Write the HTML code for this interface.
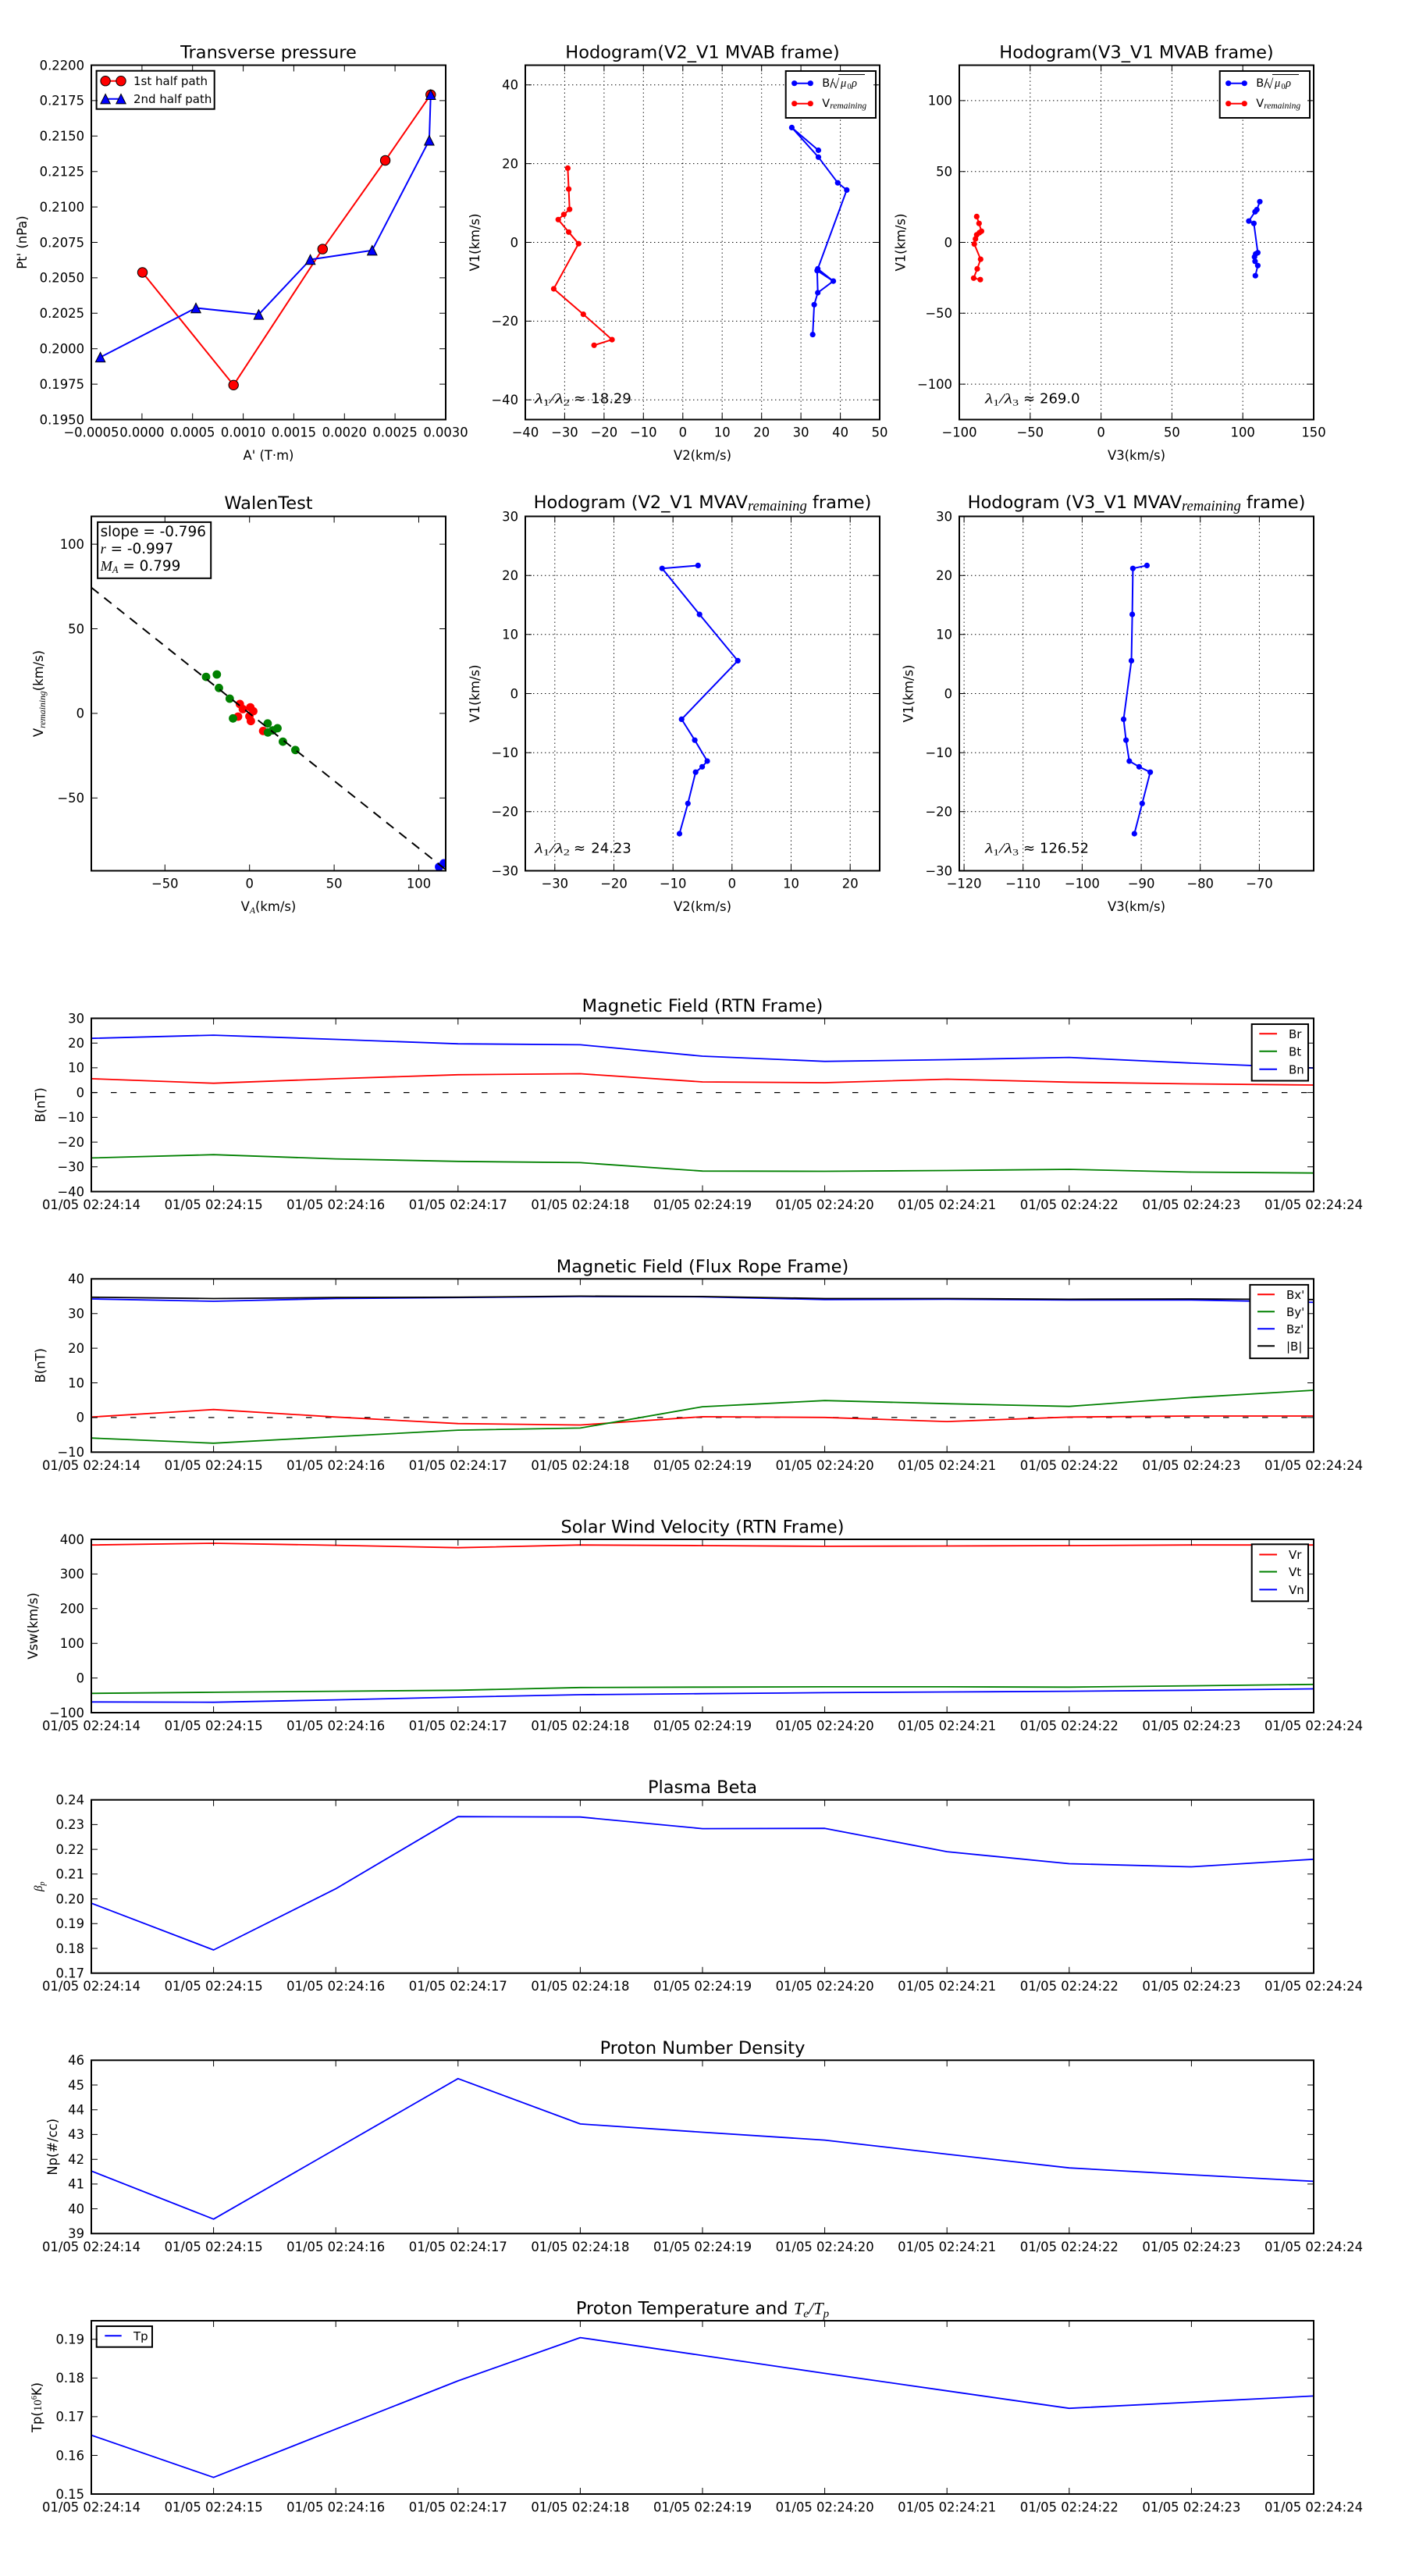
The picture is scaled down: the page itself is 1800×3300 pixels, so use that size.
<!DOCTYPE html>
<html><head><meta charset="utf-8"><style>
html,body{margin:0;padding:0;background:#fff}
svg{display:block;font-family:"DejaVu Sans","Liberation Sans",sans-serif;font-size:16.4px}
text{fill:#000}
.c{text-anchor:middle}
.e{text-anchor:end}
.ttl{font-size:22.5px;text-anchor:middle}
.m{font-family:"Liberation Serif","DejaVu Serif",serif;font-style:italic}
.sp{fill:none;stroke:#000;stroke-width:2}
.tk{fill:none;stroke:#000;stroke-width:1}
.gd{fill:none;stroke:#000;stroke-width:1;stroke-dasharray:1.4 3.6}
.ln{fill:none;stroke-width:2;stroke-linejoin:round}
.tl{fill:none;stroke-width:1.8;stroke-linejoin:round}
.lg{fill:#fff;stroke:#000;stroke-width:2}
.zl{fill:none;stroke:#000;stroke-width:1.3;stroke-dasharray:7.5 17.5}
.lt{font-size:15px}
</style></head><body>
<svg width="1800" height="3300" viewBox="0 0 1800 3300" xmlns="http://www.w3.org/2000/svg">
<rect x="0" y="0" width="1800" height="3300" fill="#fff"/>
<defs><clipPath id="c4"><rect x="117" y="661.5" width="454" height="454"/></clipPath></defs>

<!-- ============ P1 Transverse pressure ============ -->
<text class="ttl" x="344" y="74.5">Transverse pressure</text>
<polyline class="ln" stroke="#ff0000" points="182.5,349 299.2,493.3 413.3,319.1 493.6,205.5 551.8,121.3"/>
<g fill="#ff0000" stroke="#000" stroke-width="1">
<circle cx="182.5" cy="349" r="6.2"/><circle cx="299.2" cy="493.3" r="6.2"/><circle cx="413.3" cy="319.1" r="6.2"/><circle cx="493.6" cy="205.5" r="6.2"/><circle cx="551.8" cy="121.3" r="6.2"/>
</g>
<polyline class="ln" stroke="#0000ff" points="551.8,121.3 549.9,179.8 476.8,320.7 397.6,332.5 331.4,402.9 251,394.5 128.6,457.6"/>
<g fill="#0000ff" stroke="#000" stroke-width="1">
<path d="M551.8 115.1L558 127.5L545.6 127.5Z"/><path d="M549.9 173.6L556.1 186L543.7 186Z"/><path d="M476.8 314.5L483 326.9L470.6 326.9Z"/><path d="M397.6 326.3L403.8 338.7L391.4 338.7Z"/><path d="M331.4 396.7L337.6 409.1L325.2 409.1Z"/><path d="M251 388.3L257.2 400.7L244.8 400.7Z"/><path d="M128.6 451.4L134.8 463.8L122.4 463.8Z"/>
</g>
<rect class="lg" x="123.6" y="90.7" width="151.1" height="49"/>
<line x1="135.1" y1="103.7" x2="155" y2="103.7" stroke="#ff0000" stroke-width="2"/>
<g fill="#ff0000" stroke="#000" stroke-width="1"><circle cx="135.1" cy="103.7" r="6.2"/><circle cx="155" cy="103.7" r="6.2"/></g>
<line x1="135.1" y1="126.7" x2="155" y2="126.7" stroke="#0000ff" stroke-width="2"/>
<g fill="#0000ff" stroke="#000" stroke-width="1"><path d="M135.1 120.5L141.3 132.9L128.9 132.9Z"/><path d="M155 120.5L161.2 132.9L148.8 132.9Z"/></g>
<text class="lt" x="171" y="109">1st half path</text>
<text class="lt" x="171" y="132">2nd half path</text>
<path class="tk" d="M181.9 537.5v-8M181.9 83.5v8M246.7 537.5v-8M246.7 83.5v8M311.6 537.5v-8M311.6 83.5v8M376.4 537.5v-8M376.4 83.5v8M441.3 537.5v-8M441.3 83.5v8M506.1 537.5v-8M506.1 83.5v8M117 128.9h8M571 128.9h-8M117 174.3h8M571 174.3h-8M117 219.7h8M571 219.7h-8M117 265.1h8M571 265.1h-8M117 310.5h8M571 310.5h-8M117 355.9h8M571 355.9h-8M117 401.3h8M571 401.3h-8M117 446.7h8M571 446.7h-8M117 492.1h8M571 492.1h-8"/>
<rect class="sp" x="117" y="83.5" width="454" height="454"/>
<g class="e">
<text x="108" y="89.3">0.2200</text><text x="108" y="134.7">0.2175</text><text x="108" y="180.1">0.2150</text><text x="108" y="225.5">0.2125</text><text x="108" y="270.9">0.2100</text><text x="108" y="316.3">0.2075</text><text x="108" y="361.7">0.2050</text><text x="108" y="407.1">0.2025</text><text x="108" y="452.5">0.2000</text><text x="108" y="497.9">0.1975</text><text x="108" y="543.3">0.1950</text>
</g>
<g class="c">
<text x="117" y="559.5">−0.0005</text><text x="181.9" y="559.5">0.0000</text><text x="246.7" y="559.5">0.0005</text><text x="311.6" y="559.5">0.0010</text><text x="376.4" y="559.5">0.0015</text><text x="441.3" y="559.5">0.0020</text><text x="506.1" y="559.5">0.0025</text><text x="571" y="559.5">0.0030</text>
<text x="344" y="589">A' (T·m)</text>
</g>
<text class="c" transform="translate(28.7,310.5) rotate(-90)" y="5.5">Pt' (nPa)</text>

<!-- ============ P2 Hodogram V2_V1 MVAB ============ -->
<text class="ttl" x="900" y="74.5">Hodogram(V2_V1 MVAB frame)</text>
<path class="gd" d="M723.4 83.5V537.5M773.9 83.5V537.5M824.3 83.5V537.5M874.8 83.5V537.5M925.2 83.5V537.5M975.7 83.5V537.5M1026.1 83.5V537.5M1076.6 83.5V537.5M673 108.7H1127M673 209.6H1127M673 310.5H1127M673 411.4H1127M673 512.3H1127"/>
<polyline class="ln" stroke="#0000ff" points="1048.5,192.5 1014.4,163.4 1048.5,201.3 1073.3,234.2 1084.8,243.4 1047.7,344.4 1067.6,360.1 1046.9,346.7 1047.7,375 1043.1,390.3 1041.2,428.6"/>
<line x1="1067.6" y1="360.1" x2="1047.7" y2="375" stroke="#0000ff" stroke-width="2"/>
<g fill="#0000ff">
<circle cx="1048.5" cy="192.5" r="3.6"/><circle cx="1014.4" cy="163.4" r="3.6"/><circle cx="1048.5" cy="201.3" r="3.6"/><circle cx="1073.3" cy="234.2" r="3.6"/><circle cx="1084.8" cy="243.4" r="3.6"/><circle cx="1047.7" cy="344.4" r="3.6"/><circle cx="1067.6" cy="360.1" r="3.6"/><circle cx="1046.9" cy="346.7" r="3.6"/><circle cx="1047.7" cy="375" r="3.6"/><circle cx="1043.1" cy="390.3" r="3.6"/><circle cx="1041.2" cy="428.6" r="3.6"/>
</g>
<polyline class="ln" stroke="#ff0000" points="727.4,215.4 728.6,242.2 729.7,268.2 722.4,274.7 715.2,281.3 728.6,297.3 741.2,312.2 709.4,370 747.3,402.6 784.1,435.1 761.1,442.3"/>
<g fill="#ff0000">
<circle cx="727.4" cy="215.4" r="3.6"/><circle cx="728.6" cy="242.2" r="3.6"/><circle cx="729.7" cy="268.2" r="3.6"/><circle cx="722.4" cy="274.7" r="3.6"/><circle cx="715.2" cy="281.3" r="3.6"/><circle cx="728.6" cy="297.3" r="3.6"/><circle cx="741.2" cy="312.2" r="3.6"/><circle cx="709.4" cy="370" r="3.6"/><circle cx="747.3" cy="402.6" r="3.6"/><circle cx="784.1" cy="435.1" r="3.6"/><circle cx="761.1" cy="442.3" r="3.6"/>
</g>
<text class="m" x="685" y="516.5" font-size="18" textLength="45" lengthAdjust="spacingAndGlyphs">λ<tspan font-size="12" dy="3" font-style="normal">1</tspan><tspan dy="-3">/λ</tspan><tspan font-size="12" dy="3" font-style="normal">2</tspan></text>
<text x="735" y="516.5" font-size="18">≈</text><text x="757.3" y="516.5" font-size="18">18.29</text>
<rect class="lg" x="1006.7" y="91" width="115.3" height="60"/>
<line x1="1017.7" y1="106.7" x2="1038.3" y2="106.7" stroke="#0000ff" stroke-width="2"/>
<circle cx="1017.7" cy="106.7" r="3.6" fill="#0000ff"/><circle cx="1038.3" cy="106.7" r="3.6" fill="#0000ff"/>
<line x1="1017.7" y1="132.7" x2="1038.3" y2="132.7" stroke="#ff0000" stroke-width="2"/>
<circle cx="1017.7" cy="132.7" r="3.6" fill="#ff0000"/><circle cx="1038.3" cy="132.7" r="3.6" fill="#ff0000"/>
<text x="1053.3" y="111" font-size="14.5">B/</text>
<text x="1066" y="113" font-size="17" font-family="Liberation Serif">√</text>
<line x1="1074" y1="95.5" x2="1108" y2="95.5" stroke="#000" stroke-width="0.9"/>
<text class="m" x="1077" y="111" font-size="14.5">μ</text>
<text x="1085.5" y="114" font-size="10" font-family="Liberation Serif">0</text>
<text class="m" x="1091" y="111" font-size="14.5">ρ</text>
<text x="1053.3" y="137" font-size="14.5">V<tspan class="m" font-size="11.5" dy="2">remaining</tspan></text>
<path class="tk" d="M723.4 537.5v-8M723.4 83.5v8M773.9 537.5v-8M773.9 83.5v8M824.3 537.5v-8M824.3 83.5v8M874.8 537.5v-8M874.8 83.5v8M925.2 537.5v-8M925.2 83.5v8M975.7 537.5v-8M975.7 83.5v8M1026.1 537.5v-8M1026.1 83.5v8M1076.6 537.5v-8M1076.6 83.5v8M673 108.7h8M1127 108.7h-8M673 209.6h8M1127 209.6h-8M673 310.5h8M1127 310.5h-8M673 411.4h8M1127 411.4h-8M673 512.3h8M1127 512.3h-8"/>
<rect class="sp" x="673" y="83.5" width="454" height="454"/>
<g class="e"><text x="664" y="114.5">40</text><text x="664" y="215.4">20</text><text x="664" y="316.3">0</text><text x="664" y="417.2">−20</text><text x="664" y="518.1">−40</text></g>
<g class="c">
<text x="673" y="559.5">−40</text><text x="723.4" y="559.5">−30</text><text x="773.9" y="559.5">−20</text><text x="824.3" y="559.5">−10</text><text x="874.8" y="559.5">0</text><text x="925.2" y="559.5">10</text><text x="975.7" y="559.5">20</text><text x="1026.1" y="559.5">30</text><text x="1076.6" y="559.5">40</text><text x="1127" y="559.5">50</text>
<text x="900" y="589">V2(km/s)</text>
</g>
<text class="c" transform="translate(608.4,310.5) rotate(-90)" y="5.5">V1(km/s)</text>

<!-- ============ P3 Hodogram V3_V1 MVAB ============ -->
<text class="ttl" x="1456" y="74.5">Hodogram(V3_V1 MVAB frame)</text>
<path class="gd" d="M1319.8 83.5V537.5M1410.6 83.5V537.5M1501.4 83.5V537.5M1592.2 83.5V537.5M1229 128.9H1683M1229 219.7H1683M1229 310.5H1683M1229 401.3H1683M1229 492.1H1683"/>
<polyline class="ln" stroke="#0000ff" points="1614,258.3 1610.2,268.6 1607.9,271.3 1599.9,283.2 1606.4,286.2 1611.4,323.7 1608.7,325.3 1607.2,329.1 1607.9,334.8 1611.4,340.2 1608.3,353.2"/>
<g fill="#0000ff">
<circle cx="1614" cy="258.3" r="3.6"/><circle cx="1610.2" cy="268.6" r="3.6"/><circle cx="1607.9" cy="271.3" r="3.6"/><circle cx="1599.9" cy="283.2" r="3.6"/><circle cx="1606.4" cy="286.2" r="3.6"/><circle cx="1611.4" cy="323.7" r="3.6"/><circle cx="1608.7" cy="325.3" r="3.6"/><circle cx="1607.2" cy="329.1" r="3.6"/><circle cx="1607.9" cy="334.8" r="3.6"/><circle cx="1611.4" cy="340.2" r="3.6"/><circle cx="1608.3" cy="353.2" r="3.6"/>
</g>
<polyline class="ln" stroke="#ff0000" points="1251.3,277.4 1254.3,286.2 1257.4,296.2 1254.7,298.1 1251.3,300.8 1249.7,306.1 1248.2,312.6 1256.3,332.1 1252,344.4 1247.4,356.3 1255.9,358.2"/>
<g fill="#ff0000">
<circle cx="1251.3" cy="277.4" r="3.6"/><circle cx="1254.3" cy="286.2" r="3.6"/><circle cx="1257.4" cy="296.2" r="3.6"/><circle cx="1254.7" cy="298.1" r="3.6"/><circle cx="1251.3" cy="300.8" r="3.6"/><circle cx="1249.7" cy="306.1" r="3.6"/><circle cx="1248.2" cy="312.6" r="3.6"/><circle cx="1256.3" cy="332.1" r="3.6"/><circle cx="1252" cy="344.4" r="3.6"/><circle cx="1247.4" cy="356.3" r="3.6"/><circle cx="1255.9" cy="358.2" r="3.6"/>
</g>
<text class="m" x="1262" y="516.5" font-size="18" textLength="43" lengthAdjust="spacingAndGlyphs">λ<tspan font-size="12" dy="3" font-style="normal">1</tspan><tspan dy="-3">/λ</tspan><tspan font-size="12" dy="3" font-style="normal">3</tspan></text>
<text x="1311" y="516.5" font-size="18">≈</text><text x="1332" y="516.5" font-size="18">269.0</text>
<rect class="lg" x="1562.7" y="91" width="115.3" height="60"/>
<line x1="1573.7" y1="106.7" x2="1594.3" y2="106.7" stroke="#0000ff" stroke-width="2"/>
<circle cx="1573.7" cy="106.7" r="3.6" fill="#0000ff"/><circle cx="1594.3" cy="106.7" r="3.6" fill="#0000ff"/>
<line x1="1573.7" y1="132.7" x2="1594.3" y2="132.7" stroke="#ff0000" stroke-width="2"/>
<circle cx="1573.7" cy="132.7" r="3.6" fill="#ff0000"/><circle cx="1594.3" cy="132.7" r="3.6" fill="#ff0000"/>
<text x="1609.3" y="111" font-size="14.5">B/</text>
<text x="1622" y="113" font-size="17" font-family="Liberation Serif">√</text>
<line x1="1630" y1="95.5" x2="1664" y2="95.5" stroke="#000" stroke-width="0.9"/>
<text class="m" x="1633" y="111" font-size="14.5">μ</text>
<text x="1641.5" y="114" font-size="10" font-family="Liberation Serif">0</text>
<text class="m" x="1647" y="111" font-size="14.5">ρ</text>
<text x="1609.3" y="137" font-size="14.5">V<tspan class="m" font-size="11.5" dy="2">remaining</tspan></text>
<path class="tk" d="M1319.8 537.5v-8M1319.8 83.5v8M1410.6 537.5v-8M1410.6 83.5v8M1501.4 537.5v-8M1501.4 83.5v8M1592.2 537.5v-8M1592.2 83.5v8M1229 128.9h8M1683 128.9h-8M1229 219.7h8M1683 219.7h-8M1229 310.5h8M1683 310.5h-8M1229 401.3h8M1683 401.3h-8M1229 492.1h8M1683 492.1h-8"/>
<rect class="sp" x="1229" y="83.5" width="454" height="454"/>
<g class="e"><text x="1220" y="134.7">100</text><text x="1220" y="225.5">50</text><text x="1220" y="316.3">0</text><text x="1220" y="407.1">−50</text><text x="1220" y="497.9">−100</text></g>
<g class="c">
<text x="1229" y="559.5">−100</text><text x="1319.8" y="559.5">−50</text><text x="1410.6" y="559.5">0</text><text x="1501.4" y="559.5">50</text><text x="1592.2" y="559.5">100</text><text x="1683" y="559.5">150</text>
<text x="1456" y="589">V3(km/s)</text>
</g>
<text class="c" transform="translate(1154,310.5) rotate(-90)" y="5.5">V1(km/s)</text>

<!-- ============ P4 WalenTest ============ -->
<text class="ttl" x="344" y="652">WalenTest</text>
<g clip-path="url(#c4)">
<g fill="#ff0000">
<circle cx="307.3" cy="901.9" r="5.4"/><circle cx="311.1" cy="908.4" r="5.4"/><circle cx="320.7" cy="906.1" r="5.4"/><circle cx="324.5" cy="911.1" r="5.4"/><circle cx="319.5" cy="917.6" r="5.4"/><circle cx="321.4" cy="923.7" r="5.4"/><circle cx="305" cy="918" r="5.4"/><circle cx="337.1" cy="936.4" r="5.4"/>
</g>
<g fill="#008000">
<circle cx="264" cy="867.1" r="5.4"/><circle cx="277.8" cy="864" r="5.4"/><circle cx="280.5" cy="881.3" r="5.4"/><circle cx="294.3" cy="895" r="5.4"/><circle cx="298.5" cy="920.3" r="5.4"/><circle cx="342.9" cy="926.8" r="5.4"/><circle cx="343.2" cy="938.3" r="5.4"/><circle cx="349.4" cy="935.6" r="5.4"/><circle cx="355.5" cy="932.9" r="5.4"/><circle cx="362.4" cy="950.1" r="5.4"/><circle cx="378.4" cy="960.8" r="5.4"/>
</g>
<g fill="#0000ff"><circle cx="562.5" cy="1110.5" r="5.4"/><circle cx="568.6" cy="1105.9" r="5.4"/></g>
<line x1="117" y1="752.6" x2="571" y2="1114" stroke="#000" stroke-width="2" stroke-dasharray="12 9"/>
</g>
<rect class="lg" x="125.1" y="668.9" width="145.1" height="71.9"/>
<text x="128.6" y="687" font-size="18.4">slope = -0.796</text>
<text x="128.6" y="709" font-size="18.4"><tspan class="m">r</tspan> = -0.997</text>
<text x="128.6" y="731" font-size="18.4"><tspan class="m">M</tspan><tspan class="m" font-size="12.5" dy="3">A</tspan><tspan dy="-3"> = 0.799</tspan></text>
<path class="tk" d="M211.3 1115.5v-8M211.3 661.5v8M319.7 1115.5v-8M319.7 661.5v8M428.1 1115.5v-8M428.1 661.5v8M536.5 1115.5v-8M536.5 661.5v8M117 697.1h8M571 697.1h-8M117 805.5h8M571 805.5h-8M117 913.9h8M571 913.9h-8M117 1022.3h8M571 1022.3h-8"/>
<rect class="sp" x="117" y="661.5" width="454" height="454"/>
<g class="e"><text x="108" y="702.9">100</text><text x="108" y="811.3">50</text><text x="108" y="919.7">0</text><text x="108" y="1028.1">−50</text></g>
<g class="c">
<text x="211.3" y="1137.5">−50</text><text x="319.7" y="1137.5">0</text><text x="428.1" y="1137.5">50</text><text x="536.5" y="1137.5">100</text>
<text x="344" y="1167">V<tspan class="m" font-size="11.7" dy="3">A</tspan><tspan dy="-3">(km/s)</tspan></text>
</g>
<text class="c" transform="translate(49.7,888.5) rotate(-90)" y="5.5">V<tspan class="m" font-size="11.7" dy="3">remaining</tspan><tspan dy="-3">(km/s)</tspan></text>

<!-- ============ P5 Hodogram V2_V1 MVAV ============ -->
<text class="ttl" x="900" y="651">Hodogram (V2_V1 MVAV<tspan class="m" font-size="18.6" dy="3">remaining</tspan><tspan dy="-3"> frame)</tspan></text>
<path class="gd" d="M710.8 661.5V1115.5M786.5 661.5V1115.5M862.2 661.5V1115.5M937.8 661.5V1115.5M1013.5 661.5V1115.5M1089.2 661.5V1115.5M673 737.2H1127M673 812.8H1127M673 888.5H1127M673 964.2H1127M673 1039.8H1127"/>
<polyline class="ln" stroke="#0000ff" points="894.3,724.4 848.3,728.2 896.2,787.1 945.2,846.4 873.2,921.4 890.1,948.2 906.1,975 899.6,982.3 891.2,989.2 881.3,1029.3 870.5,1068"/>
<g fill="#0000ff">
<circle cx="894.3" cy="724.4" r="3.6"/><circle cx="848.3" cy="728.2" r="3.6"/><circle cx="896.2" cy="787.1" r="3.6"/><circle cx="945.2" cy="846.4" r="3.6"/><circle cx="873.2" cy="921.4" r="3.6"/><circle cx="890.1" cy="948.2" r="3.6"/><circle cx="906.1" cy="975" r="3.6"/><circle cx="899.6" cy="982.3" r="3.6"/><circle cx="891.2" cy="989.2" r="3.6"/><circle cx="881.3" cy="1029.3" r="3.6"/><circle cx="870.5" cy="1068" r="3.6"/>
</g>
<text class="m" x="685" y="1092.5" font-size="18" textLength="45" lengthAdjust="spacingAndGlyphs">λ<tspan font-size="12" dy="3" font-style="normal">1</tspan><tspan dy="-3">/λ</tspan><tspan font-size="12" dy="3" font-style="normal">2</tspan></text>
<text x="735" y="1092.5" font-size="18">≈</text><text x="757.3" y="1092.5" font-size="18">24.23</text>
<path class="tk" d="M710.8 1115.5v-8M710.8 661.5v8M786.5 1115.5v-8M786.5 661.5v8M862.2 1115.5v-8M862.2 661.5v8M937.8 1115.5v-8M937.8 661.5v8M1013.5 1115.5v-8M1013.5 661.5v8M1089.2 1115.5v-8M1089.2 661.5v8M673 737.2h8M1127 737.2h-8M673 812.8h8M1127 812.8h-8M673 888.5h8M1127 888.5h-8M673 964.2h8M1127 964.2h-8M673 1039.8h8M1127 1039.8h-8"/>
<rect class="sp" x="673" y="661.5" width="454" height="454"/>
<g class="e"><text x="664" y="667.3">30</text><text x="664" y="743">20</text><text x="664" y="818.6">10</text><text x="664" y="894.3">0</text><text x="664" y="970">−10</text><text x="664" y="1045.6">−20</text><text x="664" y="1121.3">−30</text></g>
<g class="c">
<text x="710.8" y="1137.5">−30</text><text x="786.5" y="1137.5">−20</text><text x="862.2" y="1137.5">−10</text><text x="937.8" y="1137.5">0</text><text x="1013.5" y="1137.5">10</text><text x="1089.2" y="1137.5">20</text>
<text x="900" y="1167">V2(km/s)</text>
</g>
<text class="c" transform="translate(608.4,888.5) rotate(-90)" y="5.5">V1(km/s)</text>

<!-- ============ P6 Hodogram V3_V1 MVAV ============ -->
<text class="ttl" x="1456" y="651">Hodogram (V3_V1 MVAV<tspan class="m" font-size="18.6" dy="3">remaining</tspan><tspan dy="-3"> frame)</tspan></text>
<path class="gd" d="M1235.1 661.5V1115.5M1310.7 661.5V1115.5M1386.4 661.5V1115.5M1462.1 661.5V1115.5M1537.7 661.5V1115.5M1613.4 661.5V1115.5M1229 737.2H1683M1229 812.8H1683M1229 888.5H1683M1229 964.2H1683M1229 1039.8H1683"/>
<polyline class="ln" stroke="#0000ff" points="1469.4,724.4 1451.4,728.2 1450.6,787.1 1449.5,846.4 1439.5,921.4 1442.6,948.2 1446.8,975 1459.4,982.3 1473.6,989.2 1463.3,1029.3 1453.3,1068"/>
<g fill="#0000ff">
<circle cx="1469.4" cy="724.4" r="3.6"/><circle cx="1451.4" cy="728.2" r="3.6"/><circle cx="1450.6" cy="787.1" r="3.6"/><circle cx="1449.5" cy="846.4" r="3.6"/><circle cx="1439.5" cy="921.4" r="3.6"/><circle cx="1442.6" cy="948.2" r="3.6"/><circle cx="1446.8" cy="975" r="3.6"/><circle cx="1459.4" cy="982.3" r="3.6"/><circle cx="1473.6" cy="989.2" r="3.6"/><circle cx="1463.3" cy="1029.3" r="3.6"/><circle cx="1453.3" cy="1068" r="3.6"/>
</g>
<text class="m" x="1262" y="1092.5" font-size="18" textLength="43" lengthAdjust="spacingAndGlyphs">λ<tspan font-size="12" dy="3" font-style="normal">1</tspan><tspan dy="-3">/λ</tspan><tspan font-size="12" dy="3" font-style="normal">3</tspan></text>
<text x="1311" y="1092.5" font-size="18">≈</text><text x="1332" y="1092.5" font-size="18">126.52</text>
<path class="tk" d="M1235.1 1115.5v-8M1235.1 661.5v8M1310.7 1115.5v-8M1310.7 661.5v8M1386.4 1115.5v-8M1386.4 661.5v8M1462.1 1115.5v-8M1462.1 661.5v8M1537.7 1115.5v-8M1537.7 661.5v8M1613.4 1115.5v-8M1613.4 661.5v8M1229 737.2h8M1683 737.2h-8M1229 812.8h8M1683 812.8h-8M1229 888.5h8M1683 888.5h-8M1229 964.2h8M1683 964.2h-8M1229 1039.8h8M1683 1039.8h-8"/>
<rect class="sp" x="1229" y="661.5" width="454" height="454"/>
<g class="e"><text x="1220" y="667.3">30</text><text x="1220" y="743">20</text><text x="1220" y="818.6">10</text><text x="1220" y="894.3">0</text><text x="1220" y="970">−10</text><text x="1220" y="1045.6">−20</text><text x="1220" y="1121.3">−30</text></g>
<g class="c">
<text x="1235.1" y="1137.5">−120</text><text x="1310.7" y="1137.5">−110</text><text x="1386.4" y="1137.5">−100</text><text x="1462.1" y="1137.5">−90</text><text x="1537.7" y="1137.5">−80</text><text x="1613.4" y="1137.5">−70</text>
<text x="1456" y="1167">V3(km/s)</text>
</g>
<text class="c" transform="translate(1164,888.5) rotate(-90)" y="5.5">V1(km/s)</text>

<!-- ============ TS1 Magnetic Field RTN ============ -->
<g transform="translate(0,1304.5)">
<text class="ttl" x="900" y="-8.5">Magnetic Field (RTN Frame)</text>
<line class="zl" x1="117" y1="95.1" x2="1683" y2="95.1"/>
<polyline class="tl" stroke="#ff0000" points="117,77.4 273.6,83.2 430.2,77.4 586.8,72.3 743.4,71 900,81.5 1056.6,82.5 1213.2,78 1369.8,81.8 1526.4,84 1683,85.5"/>
<polyline class="tl" stroke="#008000" points="117,178.9 273.6,174.7 430.2,180.1 586.8,183.3 743.4,184.9 900,195.7 1056.6,196 1213.2,195 1369.8,193.5 1526.4,197 1683,198.2"/>
<polyline class="tl" stroke="#0000ff" points="117,25.7 273.6,21.6 430.2,27 586.8,32.7 743.4,33.9 900,48.5 1056.6,55.2 1213.2,53 1369.8,50.1 1526.4,57.4 1683,63.7"/>
<rect class="lg" x="1603.7" y="7.5" width="72.3" height="72.5"/>
<line x1="1613.3" y1="19.8" x2="1636" y2="19.8" stroke="#ff0000" stroke-width="2"/>
<line x1="1613.3" y1="42.2" x2="1636" y2="42.2" stroke="#008000" stroke-width="2"/>
<line x1="1613.3" y1="65.2" x2="1636" y2="65.2" stroke="#0000ff" stroke-width="2"/>
<text class="lt" x="1651" y="25.4">Br</text><text class="lt" x="1651" y="47.8">Bt</text><text class="lt" x="1651" y="70.8">Bn</text>
<path class="tk" d="M273.6 222v-8M273.6 0v8M430.2 222v-8M430.2 0v8M586.8 222v-8M586.8 0v8M743.4 222v-8M743.4 0v8M900 222v-8M900 0v8M1056.6 222v-8M1056.6 0v8M1213.2 222v-8M1213.2 0v8M1369.8 222v-8M1369.8 0v8M1526.4 222v-8M1526.4 0v8M117 31.7h8M1683 31.7h-8M117 63.4h8M1683 63.4h-8M117 95.1h8M1683 95.1h-8M117 126.9h8M1683 126.9h-8M117 158.6h8M1683 158.6h-8M117 190.3h8M1683 190.3h-8"/>
<rect class="sp" x="117" y="0" width="1566" height="222"/>
<g class="e"><text x="108" y="5.8">30</text><text x="108" y="37.5">20</text><text x="108" y="69.2">10</text><text x="108" y="100.9">0</text><text x="108" y="132.7">−10</text><text x="108" y="164.4">−20</text><text x="108" y="196.1">−30</text><text x="108" y="227.8">−40</text></g>
<g class="c"><text x="117" y="244.5">01/05 02:24:14</text><text x="273.6" y="244.5">01/05 02:24:15</text><text x="430.2" y="244.5">01/05 02:24:16</text><text x="586.8" y="244.5">01/05 02:24:17</text><text x="743.4" y="244.5">01/05 02:24:18</text><text x="900" y="244.5">01/05 02:24:19</text><text x="1056.6" y="244.5">01/05 02:24:20</text><text x="1213.2" y="244.5">01/05 02:24:21</text><text x="1369.8" y="244.5">01/05 02:24:22</text><text x="1526.4" y="244.5">01/05 02:24:23</text><text x="1683" y="244.5">01/05 02:24:24</text></g>
<text class="c" transform="translate(52,111) rotate(-90)" y="5.5">B(nT)</text>
</g>

<!-- ============ TS2 Magnetic Field Flux Rope ============ -->
<g transform="translate(0,1638.3)">
<text class="ttl" x="900" y="-8.5">Magnetic Field (Flux Rope Frame)</text>
<line class="zl" x1="117" y1="177.6" x2="1683" y2="177.6"/>
<polyline class="tl" stroke="#ff0000" points="117,177 273.6,167.4 430.2,177 586.8,185.4 743.4,187.2 900,176.6 1056.6,177.5 1213.2,182.8 1369.8,177 1526.4,175.7 1683,175.7"/>
<polyline class="tl" stroke="#008000" points="117,203.9 273.6,210.5 430.2,202.1 586.8,193.8 743.4,191.1 900,163.8 1056.6,155.9 1213.2,159.9 1369.8,163.4 1526.4,152 1683,142.7"/>
<polyline class="tl" stroke="#0000ff" points="117,25.7 273.6,28.7 430.2,25.2 586.8,23.9 743.4,22.6 900,23 1056.6,26.5 1213.2,26.1 1369.8,27 1526.4,27 1683,30.1"/>
<polyline class="tl" stroke="#000" points="117,23.5 273.6,25.2 430.2,23.9 586.8,23.5 743.4,22.1 900,22.6 1056.6,25.2 1213.2,25.2 1369.8,26.1 1526.4,25.7 1683,26.5"/>
<rect class="lg" x="1601.4" y="7.6" width="74.7" height="94.2"/>
<line x1="1611" y1="19.9" x2="1633" y2="19.9" stroke="#ff0000" stroke-width="2"/>
<line x1="1611" y1="41.9" x2="1633" y2="41.9" stroke="#008000" stroke-width="2"/>
<line x1="1611" y1="63.9" x2="1633" y2="63.9" stroke="#0000ff" stroke-width="2"/>
<line x1="1611" y1="85.9" x2="1633" y2="85.9" stroke="#000" stroke-width="2"/>
<text class="lt" x="1648" y="25.5">Bx'</text><text class="lt" x="1648" y="47.5">By'</text><text class="lt" x="1648" y="69.5">Bz'</text><text class="lt" x="1648" y="91.5">|B|</text>
<path class="tk" d="M273.6 222v-8M273.6 0v8M430.2 222v-8M430.2 0v8M586.8 222v-8M586.8 0v8M743.4 222v-8M743.4 0v8M900 222v-8M900 0v8M1056.6 222v-8M1056.6 0v8M1213.2 222v-8M1213.2 0v8M1369.8 222v-8M1369.8 0v8M1526.4 222v-8M1526.4 0v8M117 44.4h8M1683 44.4h-8M117 88.8h8M1683 88.8h-8M117 133.2h8M1683 133.2h-8M117 177.6h8M1683 177.6h-8"/>
<rect class="sp" x="117" y="0" width="1566" height="222"/>
<g class="e"><text x="108" y="5.8">40</text><text x="108" y="50.2">30</text><text x="108" y="94.6">20</text><text x="108" y="139">10</text><text x="108" y="183.4">0</text><text x="108" y="227.8">−10</text></g>
<g class="c"><text x="117" y="244.5">01/05 02:24:14</text><text x="273.6" y="244.5">01/05 02:24:15</text><text x="430.2" y="244.5">01/05 02:24:16</text><text x="586.8" y="244.5">01/05 02:24:17</text><text x="743.4" y="244.5">01/05 02:24:18</text><text x="900" y="244.5">01/05 02:24:19</text><text x="1056.6" y="244.5">01/05 02:24:20</text><text x="1213.2" y="244.5">01/05 02:24:21</text><text x="1369.8" y="244.5">01/05 02:24:22</text><text x="1526.4" y="244.5">01/05 02:24:23</text><text x="1683" y="244.5">01/05 02:24:24</text></g>
<text class="c" transform="translate(52,111) rotate(-90)" y="5.5">B(nT)</text>
</g>

<!-- ============ TS3 Solar Wind Velocity ============ -->
<g transform="translate(0,1972)">
<text class="ttl" x="900" y="-8.5">Solar Wind Velocity (RTN Frame)</text>
<polyline class="tl" stroke="#ff0000" points="117,7.2 273.6,5 430.2,7.6 586.8,10.7 743.4,7.2 900,8 1056.6,8.9 1213.2,8.5 1369.8,8 1526.4,7.2 1683,7.2"/>
<polyline class="tl" stroke="#008000" points="117,197.3 273.6,195.9 430.2,194.6 586.8,193.3 743.4,189.8 900,189.3 1056.6,188.9 1213.2,188.9 1369.8,189.3 1526.4,187.6 1683,185.8"/>
<polyline class="tl" stroke="#0000ff" points="117,208.3 273.6,208.7 430.2,205.6 586.8,202.1 743.4,199 900,197.7 1056.6,196.4 1213.2,195.5 1369.8,194.6 1526.4,193.3 1683,191.5"/>
<rect class="lg" x="1603.7" y="6.3" width="72.3" height="73"/>
<line x1="1613.3" y1="19.5" x2="1636" y2="19.5" stroke="#ff0000" stroke-width="2"/>
<line x1="1613.3" y1="41.5" x2="1636" y2="41.5" stroke="#008000" stroke-width="2"/>
<line x1="1613.3" y1="64.4" x2="1636" y2="64.4" stroke="#0000ff" stroke-width="2"/>
<text class="lt" x="1651" y="25.1">Vr</text><text class="lt" x="1651" y="47.1">Vt</text><text class="lt" x="1651" y="70">Vn</text>
<path class="tk" d="M273.6 222v-8M273.6 0v8M430.2 222v-8M430.2 0v8M586.8 222v-8M586.8 0v8M743.4 222v-8M743.4 0v8M900 222v-8M900 0v8M1056.6 222v-8M1056.6 0v8M1213.2 222v-8M1213.2 0v8M1369.8 222v-8M1369.8 0v8M1526.4 222v-8M1526.4 0v8M117 44.4h8M1683 44.4h-8M117 88.8h8M1683 88.8h-8M117 133.2h8M1683 133.2h-8M117 177.6h8M1683 177.6h-8"/>
<rect class="sp" x="117" y="0" width="1566" height="222"/>
<g class="e"><text x="108" y="5.8">400</text><text x="108" y="50.2">300</text><text x="108" y="94.6">200</text><text x="108" y="139">100</text><text x="108" y="183.4">0</text><text x="108" y="227.8">−100</text></g>
<g class="c"><text x="117" y="244.5">01/05 02:24:14</text><text x="273.6" y="244.5">01/05 02:24:15</text><text x="430.2" y="244.5">01/05 02:24:16</text><text x="586.8" y="244.5">01/05 02:24:17</text><text x="743.4" y="244.5">01/05 02:24:18</text><text x="900" y="244.5">01/05 02:24:19</text><text x="1056.6" y="244.5">01/05 02:24:20</text><text x="1213.2" y="244.5">01/05 02:24:21</text><text x="1369.8" y="244.5">01/05 02:24:22</text><text x="1526.4" y="244.5">01/05 02:24:23</text><text x="1683" y="244.5">01/05 02:24:24</text></g>
<text class="c" transform="translate(42.5,111) rotate(-90)" y="5.5">Vsw(km/s)</text>
</g>

<!-- ============ TS4 Plasma Beta ============ -->
<g transform="translate(0,2305.7)">
<text class="ttl" x="900" y="-8.5">Plasma Beta</text>
<polyline class="tl" stroke="#0000ff" points="117,132.4 273.6,192.3 430.2,113.9 586.8,21.5 743.4,22 900,36.9 1056.6,36.5 1213.2,66.4 1369.8,81.8 1526.4,85.8 1683,76.1"/>
<path class="tk" d="M273.6 222v-8M273.6 0v8M430.2 222v-8M430.2 0v8M586.8 222v-8M586.8 0v8M743.4 222v-8M743.4 0v8M900 222v-8M900 0v8M1056.6 222v-8M1056.6 0v8M1213.2 222v-8M1213.2 0v8M1369.8 222v-8M1369.8 0v8M1526.4 222v-8M1526.4 0v8M117 31.7h8M1683 31.7h-8M117 63.4h8M1683 63.4h-8M117 95.1h8M1683 95.1h-8M117 126.9h8M1683 126.9h-8M117 158.6h8M1683 158.6h-8M117 190.3h8M1683 190.3h-8"/>
<rect class="sp" x="117" y="0" width="1566" height="222"/>
<g class="e"><text x="108" y="5.8">0.24</text><text x="108" y="37.5">0.23</text><text x="108" y="69.2">0.22</text><text x="108" y="100.9">0.21</text><text x="108" y="132.7">0.20</text><text x="108" y="164.4">0.19</text><text x="108" y="196.1">0.18</text><text x="108" y="227.8">0.17</text></g>
<g class="c"><text x="117" y="244.5">01/05 02:24:14</text><text x="273.6" y="244.5">01/05 02:24:15</text><text x="430.2" y="244.5">01/05 02:24:16</text><text x="586.8" y="244.5">01/05 02:24:17</text><text x="743.4" y="244.5">01/05 02:24:18</text><text x="900" y="244.5">01/05 02:24:19</text><text x="1056.6" y="244.5">01/05 02:24:20</text><text x="1213.2" y="244.5">01/05 02:24:21</text><text x="1369.8" y="244.5">01/05 02:24:22</text><text x="1526.4" y="244.5">01/05 02:24:23</text><text x="1683" y="244.5">01/05 02:24:24</text></g>
<text class="c m" transform="translate(49.4,111) rotate(-90)" y="4.5" font-size="15">β<tspan font-size="10.5" dy="3">p</tspan></text>
</g>

<!-- ============ TS5 Proton Number Density ============ -->
<g transform="translate(0,2639.3)">
<text class="ttl" x="900" y="-8.5">Proton Number Density</text>
<polyline class="tl" stroke="#0000ff" points="117,141.9 273.6,203.5 430.2,113.6 586.8,23.5 743.4,81.6 900,92.2 1056.6,102.3 1213.2,120.3 1369.8,137.9 1526.4,146.7 1683,155.1"/>
<path class="tk" d="M273.6 222v-8M273.6 0v8M430.2 222v-8M430.2 0v8M586.8 222v-8M586.8 0v8M743.4 222v-8M743.4 0v8M900 222v-8M900 0v8M1056.6 222v-8M1056.6 0v8M1213.2 222v-8M1213.2 0v8M1369.8 222v-8M1369.8 0v8M1526.4 222v-8M1526.4 0v8M117 31.7h8M1683 31.7h-8M117 63.4h8M1683 63.4h-8M117 95.1h8M1683 95.1h-8M117 126.9h8M1683 126.9h-8M117 158.6h8M1683 158.6h-8M117 190.3h8M1683 190.3h-8"/>
<rect class="sp" x="117" y="0" width="1566" height="222"/>
<g class="e"><text x="108" y="5.8">46</text><text x="108" y="37.5">45</text><text x="108" y="69.2">44</text><text x="108" y="100.9">43</text><text x="108" y="132.7">42</text><text x="108" y="164.4">41</text><text x="108" y="196.1">40</text><text x="108" y="227.8">39</text></g>
<g class="c"><text x="117" y="244.5">01/05 02:24:14</text><text x="273.6" y="244.5">01/05 02:24:15</text><text x="430.2" y="244.5">01/05 02:24:16</text><text x="586.8" y="244.5">01/05 02:24:17</text><text x="743.4" y="244.5">01/05 02:24:18</text><text x="900" y="244.5">01/05 02:24:19</text><text x="1056.6" y="244.5">01/05 02:24:20</text><text x="1213.2" y="244.5">01/05 02:24:21</text><text x="1369.8" y="244.5">01/05 02:24:22</text><text x="1526.4" y="244.5">01/05 02:24:23</text><text x="1683" y="244.5">01/05 02:24:24</text></g>
<text class="c" transform="translate(67.5,111) rotate(-90)" y="5.5">Np(#/cc)</text>
</g>

<!-- ============ TS6 Proton Temperature ============ -->
<g transform="translate(0,2973)">
<text class="ttl" x="900" y="-8.5">Proton Temperature and <tspan class="m">T</tspan><tspan class="m" font-size="15" dy="4">e</tspan><tspan class="m" dy="-4">/T</tspan><tspan class="m" font-size="15" dy="4">p</tspan></text>
<polyline class="tl" stroke="#0000ff" points="117,146.6 273.6,200.7 430.2,138.8 586.8,77 743.4,21.6 900,44.5 1056.6,67.4 1213.2,89.8 1369.8,112.2 1526.4,104.3 1683,96.4"/>
<rect class="lg" x="123.7" y="7" width="71.3" height="26.7"/>
<line x1="134.3" y1="19.3" x2="155.7" y2="19.3" stroke="#0000ff" stroke-width="2"/>
<text class="lt" x="171" y="24.9">Tp</text>
<path class="tk" d="M273.6 222v-8M273.6 0v8M430.2 222v-8M430.2 0v8M586.8 222v-8M586.8 0v8M743.4 222v-8M743.4 0v8M900 222v-8M900 0v8M1056.6 222v-8M1056.6 0v8M1213.2 222v-8M1213.2 0v8M1369.8 222v-8M1369.8 0v8M1526.4 222v-8M1526.4 0v8M117 23.8h8M1683 23.8h-8M117 73.4h8M1683 73.4h-8M117 122.9h8M1683 122.9h-8M117 172.5h8M1683 172.5h-8"/>
<rect class="sp" x="117" y="0" width="1566" height="222"/>
<g class="e"><text x="108" y="29.6">0.19</text><text x="108" y="79.2">0.18</text><text x="108" y="128.7">0.17</text><text x="108" y="178.3">0.16</text><text x="108" y="227.8">0.15</text></g>
<g class="c"><text x="117" y="244.5">01/05 02:24:14</text><text x="273.6" y="244.5">01/05 02:24:15</text><text x="430.2" y="244.5">01/05 02:24:16</text><text x="586.8" y="244.5">01/05 02:24:17</text><text x="743.4" y="244.5">01/05 02:24:18</text><text x="900" y="244.5">01/05 02:24:19</text><text x="1056.6" y="244.5">01/05 02:24:20</text><text x="1213.2" y="244.5">01/05 02:24:21</text><text x="1369.8" y="244.5">01/05 02:24:22</text><text x="1526.4" y="244.5">01/05 02:24:23</text><text x="1683" y="244.5">01/05 02:24:24</text></g>
<text class="c" transform="translate(47.5,111) rotate(-90)" y="5.5">Tp(<tspan font-family="Liberation Serif" font-size="15">10</tspan><tspan font-family="Liberation Serif" font-size="10" dy="-6">6</tspan><tspan dy="6">K)</tspan></text>
</g>
</svg>
</body></html>
